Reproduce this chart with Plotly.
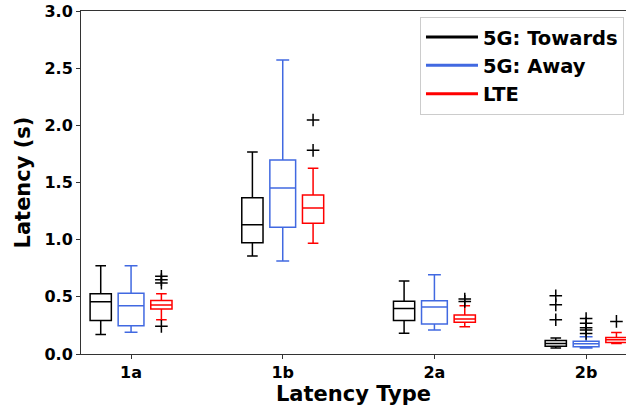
import plotly.graph_objects as go

# ---- data ----
categories = ["1a", "1b", "2a", "2b"]
series_names = ["5G: Towards", "5G: Away", "LTE"]

towards_lo = [0.17, 0.857, 0.181, 0.053]
towards_q1 = [0.292, 0.974, 0.294, 0.068]
towards_med = [0.458, 1.131, 0.397, 0.092]
towards_q3 = [0.528, 1.367, 0.461, 0.117]
towards_hi = [0.772, 1.767, 0.638, 0.139]
towards_out = [[], [], [], [0.51, 0.43, 0.30]]

away_lo = [0.19, 0.813, 0.21, 0.052]
away_q1 = [0.248, 1.108, 0.262, 0.064]
away_med = [0.423, 1.452, 0.411, 0.089]
away_q3 = [0.531, 1.697, 0.466, 0.111]
away_hi = [0.772, 2.571, 0.694, 0.151]
away_out = [[], [], [], [0.31, 0.27, 0.23, 0.21, 0.18]]

lte_lo = [0.30, 0.968, 0.239, 0.092]
lte_q1 = [0.394, 1.143, 0.277, 0.101]
lte_med = [0.428, 1.277, 0.306, 0.124]
lte_q3 = [0.469, 1.391, 0.341, 0.144]
lte_hi = [0.528, 1.624, 0.423, 0.187]
lte_out = [[0.68, 0.65, 0.62, 0.242], [2.047, 1.781], [0.48, 0.46], [0.285]]

# ---- styling ----
colors = ["black", "#4169E1", "red"]
offsets = [-0.2, 0.0, 0.2]
widths = [0.14, 0.17, 0.14]

stats = [
    (towards_lo, towards_q1, towards_med, towards_q3, towards_hi, towards_out),
    (away_lo, away_q1, away_med, away_q3, away_hi, away_out),
    (lte_lo, lte_q1, lte_med, lte_q3, lte_hi, lte_out),
]

fig = go.Figure()
for s, (lo, q1, med, q3, hi, outs) in enumerate(stats):
    for i in range(len(categories)):
        pos = i + offsets[s]
        fig.add_trace(go.Box(
            x=[pos], q1=[q1[i]], median=[med[i]], q3=[q3[i]],
            lowerfence=[lo[i]], upperfence=[hi[i]],
            width=widths[s], whiskerwidth=0.5,
            line=dict(color=colors[s], width=1.5),
            fillcolor="rgba(0,0,0,0)", boxpoints=False,
            showlegend=False, hoverinfo="skip",
        ))
        if outs[i]:
            fig.add_trace(go.Scatter(
                x=[pos] * len(outs[i]), y=outs[i], mode="markers",
                marker=dict(symbol="cross-thin", size=9,
                            line=dict(color="black", width=1.5)),
                showlegend=False, hoverinfo="skip",
            ))

for s, name in enumerate(series_names):
    fig.add_trace(go.Scatter(
        x=[None], y=[None], mode="lines", name=name,
        line=dict(color=colors[s], width=3),
    ))

bold = dict(family="DejaVu Sans", weight="bold", color="black")

fig.update_layout(
    width=626, height=411,
    margin=dict(l=81, r=0, t=11, b=57),
    plot_bgcolor="white", paper_bgcolor="white",
    showlegend=True,
    legend=dict(
        x=0.622, y=0.983, xanchor="left", yanchor="top",
        font=dict(size=19.5, **bold),
        bordercolor="#cccccc", borderwidth=1,
        bgcolor="rgba(255,255,255,0.8)",
        tracegroupgap=0, itemwidth=52,
    ),
)
fig.update_xaxes(
    range=[-0.33, 3.263],
    tickmode="array", tickvals=list(range(len(categories))), ticktext=categories,
    ticks="outside", ticklen=4, tickcolor="#333",
    tickfont=dict(size=16, **bold),
    showline=True, linecolor="#333", linewidth=1, mirror=True,
    showgrid=False, zeroline=False,
    title=dict(text="Latency Type", font=dict(size=21, **bold), standoff=5),
)
fig.update_yaxes(
    range=[0, 3], dtick=0.5, tickformat=".1f",
    ticks="outside", ticklen=4, tickcolor="#333",
    tickfont=dict(size=16, **bold),
    showline=True, linecolor="#333", linewidth=1,
    showgrid=False, zeroline=False,
    title=dict(text="Latency (s)", font=dict(size=21, **bold), standoff=8),
)

fig.write_html("out.html")
